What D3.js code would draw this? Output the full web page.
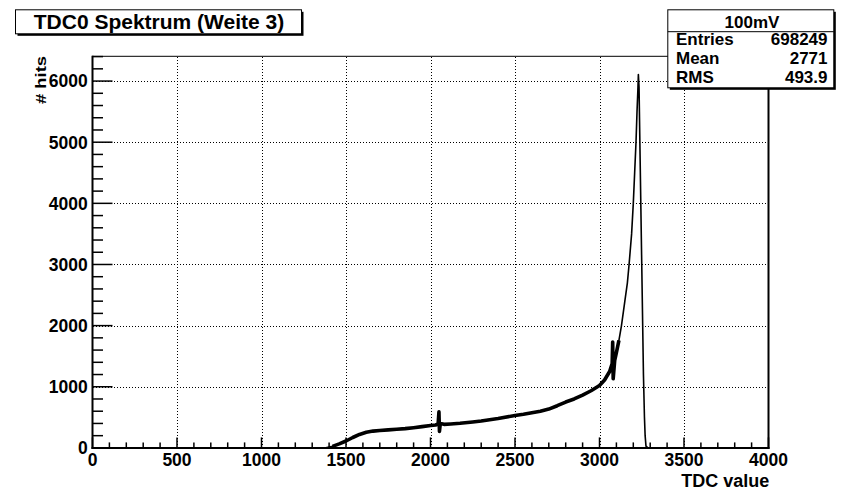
<!DOCTYPE html>
<html>
<head>
<meta charset="utf-8">
<script src="https://cdn.jsdelivr.net/npm/d3@7/dist/d3.min.js"></script>
<style>
  html, body { margin: 0; padding: 0; background: #fff; }
  svg { display: block; }
  text { font-family: "Liberation Sans", Arial, Helvetica, sans-serif; font-weight: bold; fill: #000; }
</style>
</head>
<body>
<svg id="chart" width="842" height="493"></svg>
<script>
// TDC spectrum (histogram "100mV"), hits per TDC channel
const tdc = [0, 1360, 1380, 1420, 1460, 1500, 1540, 1580, 1620, 1660, 1700, 1750, 1800, 1850, 1900,
  1950, 2000, 2030, 2045, 2050, 2053, 2058, 2080, 2120, 2175, 2250, 2300, 2400, 2500, 2550, 2600,
  2650, 2700, 2750, 2800, 2850, 2900, 2950, 3000, 3030, 3060, 3075, 3078, 3081, 3090, 3100, 3115,
  3130, 3150, 3165, 3175, 3190, 3200, 3208, 3216, 3222, 3227, 3230, 3234, 3240, 3250, 3260, 3266,
  3270, 3275, 3285, 3300, 4000];
const hits = [0, 0, 3, 25, 65, 113, 170, 220, 255, 275, 285, 295, 304, 315, 330,
  348, 365, 375, 390, 590, 270, 400, 385, 392, 402, 425, 440, 480, 530, 550, 575,
  600, 635, 690, 750, 800, 864, 935, 1020, 1110, 1250, 1380, 1730, 1130, 1430, 1560, 1760,
  2000, 2400, 2700, 3000, 3500, 4000, 4500, 5000, 5500, 5850, 6105, 5900, 4800, 3000, 1200, 500,
  200, 30, 5, 0, 0];

const xTicks = [0, 500, 1000, 1500, 2000, 2500, 3000, 3500, 4000];
const yTicks = [0, 1000, 2000, 3000, 4000, 5000, 6000];

const histTitle = "TDC0 Spektrum (Weite 3)";
const statsName = "100mV";
const statsLabels = ["Entries", "Mean", "RMS"];
const statsValues = ["698249", "2771", "493.9"];

const svg = d3.select("#chart");

const L = 92.5, R = 768.5, T = 56.3, B = 447.9;
const x = d3.scaleLinear().domain([0, 4000]).range([L, R]);
const y = d3.scaleLinear().domain([0, 6405]).range([B, T]);

// grid (dotted)
const grid = svg.append("g").attr("stroke", "#000").attr("stroke-width", 1)
  .attr("stroke-dasharray", "1,2").attr("shape-rendering", "crispEdges");
grid.selectAll("line.gx").data(xTicks.slice(1, -1)).join("line")
  .attr("x1", d => Math.round(x(d)) + 0.5).attr("x2", d => Math.round(x(d)) + 0.5)
  .attr("y1", Math.round(B)).attr("y2", Math.round(T));
grid.selectAll("line.gy").data(yTicks.slice(1)).join("line")
  .attr("x1", Math.round(L)).attr("x2", Math.round(R))
  .attr("y1", d => Math.round(y(d)) + 0.5).attr("y2", d => Math.round(y(d)) + 0.5);

// histogram line
const pts = tdc.map((t, i) => [t, hits[i]]);
const line = d3.line().x(d => x(d[0])).y(d => y(d[1]));
svg.append("path").datum(pts.filter(d => d[0] >= 1410 && d[0] <= 3120))
  .attr("d", line).attr("fill", "none").attr("stroke", "#000")
  .attr("stroke-width", 3.6).attr("stroke-linejoin", "round");
svg.append("path").datum(pts)
  .attr("d", line).attr("fill", "none").attr("stroke", "#000")
  .attr("stroke-width", 1.6).attr("stroke-linejoin", "round");

// frame
svg.append("rect").attr("x", L).attr("y", T).attr("width", R - L).attr("height", B - T)
  .attr("fill", "none").attr("stroke", "#000").attr("stroke-width", 1);
svg.append("line").attr("x1", L).attr("x2", L).attr("y1", T - 0.5).attr("y2", B + 1)
  .attr("stroke", "#000").attr("stroke-width", 2);
svg.append("line").attr("x1", L - 1).attr("x2", R + 1).attr("y1", B).attr("y2", B)
  .attr("stroke", "#000").attr("stroke-width", 2);
svg.append("line").attr("x1", R).attr("x2", R).attr("y1", T - 0.5).attr("y2", B + 1)
  .attr("stroke", "#000").attr("stroke-width", 2);

// ticks
const ticks = svg.append("g").attr("stroke", "#000").attr("stroke-width", 1.5);
const xMinor = d3.range(0, 4001, 100);
ticks.selectAll("line.tx").data(xMinor).join("line")
  .attr("x1", d => x(d)).attr("x2", d => x(d))
  .attr("y1", B).attr("y2", d => B - (d % 500 === 0 ? 10.5 : 5.5));
const yMinor = d3.range(0, 6401, 200);
ticks.selectAll("line.ty").data(yMinor).join("line")
  .attr("x1", L).attr("x2", d => L + (d % 1000 === 0 ? 20 : 10.5))
  .attr("y1", d => y(d)).attr("y2", d => y(d));

// tick labels
svg.append("g").selectAll("text").data(xTicks).join("text")
  .attr("x", d => x(d)).attr("y", 466).attr("text-anchor", "middle")
  .attr("font-size", 17.5).text(d => d);
svg.append("g").selectAll("text").data(yTicks).join("text")
  .attr("x", 87.7).attr("y", d => y(d) + 6.3).attr("text-anchor", "end")
  .attr("font-size", 17.5).text(d => d);

// axis titles
svg.append("text").attr("x", 769.3).attr("y", 487).attr("text-anchor", "end")
  .attr("font-size", 18).text("TDC value");
svg.append("text").attr("transform", "translate(46,56) rotate(-90)")
  .attr("text-anchor", "end").attr("font-size", 14)
  .attr("textLength", 48).attr("lengthAdjust", "spacingAndGlyphs").text("# hits");

// title box with shadow
function shadowBox(x0, y0, w, h) {
  svg.append("rect").attr("x", x0 + 2).attr("y", y0 + 2).attr("width", w).attr("height", h)
    .attr("fill", "#000");
  svg.append("rect").attr("x", x0).attr("y", y0).attr("width", w).attr("height", h)
    .attr("fill", "#fff").attr("stroke", "#000").attr("stroke-width", 1);
}
shadowBox(15.5, 9.8, 286, 24);
svg.append("text").attr("x", 159).attr("y", 28.5).attr("text-anchor", "middle")
  .attr("font-size", 21).text(histTitle);

// statistics box
shadowBox(667.8, 9.8, 166, 78);
svg.append("line").attr("x1", 667.8).attr("x2", 833.8).attr("y1", 31.7).attr("y2", 31.7)
  .attr("stroke", "#000").attr("stroke-width", 1);
svg.append("text").attr("x", 752).attr("y", 27.5).attr("text-anchor", "middle")
  .attr("font-size", 17).text(statsName);
const rowY = [45, 64.3, 83.3];
statsLabels.forEach((s, i) => {
  svg.append("text").attr("x", 676).attr("y", rowY[i]).attr("font-size", 17).text(s);
  svg.append("text").attr("x", 827.5).attr("y", rowY[i]).attr("text-anchor", "end")
    .attr("font-size", 17).text(statsValues[i]);
});
</script>
</body>
</html>
